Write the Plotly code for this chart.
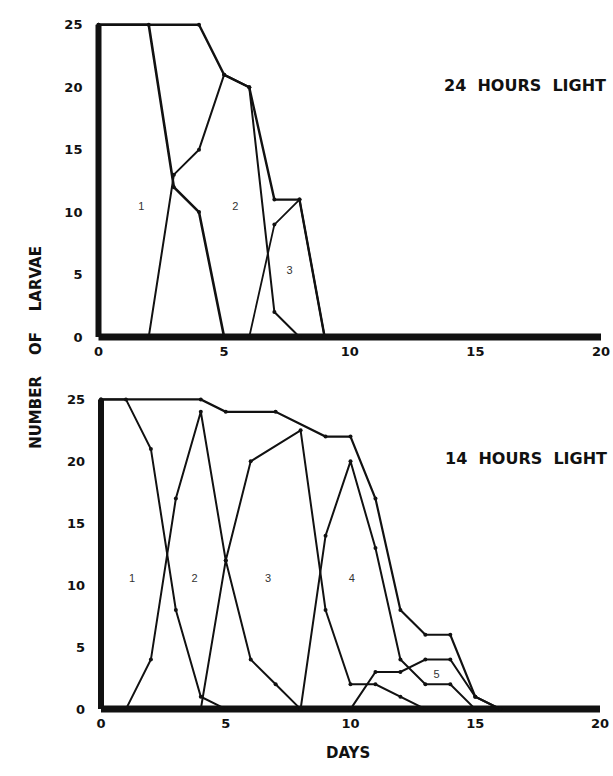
import plotly.graph_objects as go

# ---------------- data ----------------
# 24 hours light (top panel)
top_total_days = [0, 4, 5, 6, 7, 8, 9]
top_total_vals = [25, 25, 21, 20, 11, 11, 0]
top_i1_days = [0, 2, 3, 4, 5]
top_i1_vals = [25, 25, 12, 10, 0]
top_i2_days = [2, 3, 4, 5, 6, 7, 8]
top_i2_vals = [0, 13, 15, 21, 20, 2, 0]
top_i3_days = [6, 7, 8, 9]
top_i3_vals = [0, 9, 11, 0]
top_labels = ["1", "2", "3"]
top_label_x = [1.7, 5.45, 7.6]
top_label_y = [10.4, 10.4, 5.3]

# 14 hours light (bottom panel)
bot_total_days = [0, 4, 5, 7, 9, 10, 11, 12, 13, 14, 15, 16]
bot_total_vals = [25, 25, 24, 24, 22, 22, 17, 8, 6, 6, 1, 0]
bot_i1_days = [0, 1, 2, 3, 4, 5]
bot_i1_vals = [25, 25, 21, 8, 1, 0]
bot_i2_days = [1, 2, 3, 4, 5, 6, 7, 8]
bot_i2_vals = [0, 4, 17, 24, 12, 4, 2, 0]
bot_i3_days = [4, 5, 6, 8, 9, 10, 11, 12, 13]
bot_i3_vals = [0, 12, 20, 22.5, 8, 2, 2, 1, 0]
bot_i4_days = [8, 9, 10, 11, 12, 13, 14, 15]
bot_i4_vals = [0, 14, 20, 13, 4, 2, 2, 0]
bot_i5_days = [10, 11, 12, 13, 14, 15, 16]
bot_i5_vals = [0, 3, 3, 4, 4, 1, 0]
bot_labels = ["1", "2", "3", "4", "5"]
bot_label_x = [1.25, 3.75, 6.7, 10.05, 13.45]
bot_label_y = [10.5, 10.5, 10.5, 10.5, 2.7]

x_ticks = [0, 5, 10, 15, 20]
y_ticks = [0, 5, 10, 15, 20, 25]

# ---------------- layout helpers ----------------
W, H = 613, 776
XR = [-0.4, 20.4]
YR = [-0.4, 25.3]


def dom_x(p0, p1, v0=0, v1=20, r=XR):
    s = (p1 - p0) / (v1 - v0)
    return [(p0 - (v0 - r[0]) * s) / W, (p1 + (r[1] - v1) * s) / W]


def dom_y(p0, p1, v0=0, v1=25, r=YR):
    s = (p0 - p1) / (v1 - v0)
    bottom = p0 + (v0 - r[0]) * s
    top = p1 - (r[1] - v1) * s
    return [(H - bottom) / H, (H - top) / H]


fig = go.Figure()

INK = "#111111"


def add_line(xs, ys, xa, ya, width=2.2):
    fig.add_trace(go.Scatter(
        x=xs, y=ys, xaxis=xa, yaxis=ya, mode="lines+markers",
        line=dict(color=INK, width=width),
        marker=dict(color=INK, size=4),
        showlegend=False, hoverinfo="x+y",
    ))


add_line(top_total_days, top_total_vals, "x", "y", 2.4)
add_line(top_i1_days, top_i1_vals, "x", "y", 2.6)
add_line(top_i2_days, top_i2_vals, "x", "y", 2.0)
add_line(top_i3_days, top_i3_vals, "x", "y", 1.8)

add_line(bot_total_days, bot_total_vals, "x2", "y2", 2.2)
add_line(bot_i1_days, bot_i1_vals, "x2", "y2", 2.0)
add_line(bot_i2_days, bot_i2_vals, "x2", "y2", 2.0)
add_line(bot_i3_days, bot_i3_vals, "x2", "y2", 2.0)
add_line(bot_i4_days, bot_i4_vals, "x2", "y2", 2.0)
add_line(bot_i5_days, bot_i5_vals, "x2", "y2", 2.0)

# instar labels
label_font = dict(family="Liberation Sans", size=11, color="#333333")
fig.add_trace(go.Scatter(x=top_label_x, y=top_label_y, xaxis="x", yaxis="y",
                         mode="text", text=top_labels, showlegend=False,
                         textfont=label_font, hoverinfo="skip"))
fig.add_trace(go.Scatter(x=bot_label_x, y=bot_label_y, xaxis="x2", yaxis="y2",
                         mode="text", text=bot_labels, showlegend=False,
                         textfont=label_font, hoverinfo="skip"))

# thick axis lines (data coordinates)
for xr, yr in (("x", "y"), ("x2", "y2")):
    fig.add_shape(type="line", xref=xr, yref=yr, x0=0, y0=0, x1=0, y1=25,
                  line=dict(color=INK, width=6), layer="below")
    fig.add_shape(type="line", xref=xr, yref=yr, x0=0, y0=0, x1=20, y1=0,
                  line=dict(color=INK, width=7), layer="below")

tickfont = dict(family="DejaVu Sans", size=13, color=INK, weight="bold")
axis_common = dict(showgrid=False, zeroline=False, showline=False, ticks="",
                   tickfont=tickfont, fixedrange=True)

fig.update_layout(
    width=W, height=H,
    margin=dict(l=0, r=0, t=0, b=0),
    paper_bgcolor="white", plot_bgcolor="white",
    xaxis=dict(domain=dom_x(98.5, 601), range=XR, tickvals=x_ticks, anchor="y", **axis_common),
    yaxis=dict(domain=dom_y(336, 21), range=YR, tickvals=y_ticks, anchor="x",
               ticklabelstandoff=5, **axis_common),
    xaxis2=dict(domain=dom_x(101, 600), range=XR, tickvals=x_ticks, anchor="y2", **axis_common),
    yaxis2=dict(domain=dom_y(711.5, 399), range=YR, tickvals=y_ticks, anchor="x2",
                ticklabelstandoff=5, **axis_common),
)

title_font = dict(family="DejaVu Sans", size=16, color=INK, weight="bold")
NB = "\u00a0"
fig.add_annotation(xref="x", yref="y", x=16.97, y=20.1, showarrow=False,
                   text="24" + NB * 2 + "HOURS" + NB * 2 + "LIGHT", font=title_font)
fig.add_annotation(xref="x2", yref="y2", x=17.05, y=20.2, showarrow=False,
                   text="14" + NB * 2 + "HOURS" + NB * 2 + "LIGHT", font=title_font)

axis_title_font = dict(family="DejaVu Sans", size=15, color=INK, weight="bold")
fig.add_annotation(xref="paper", yref="paper", x=25 / W, y=(H - 347) / H, showarrow=False,
                   textangle=-90, text="NUMBER" + NB * 4 + "OF" + NB * 4 + "LARVAE",
                   font=axis_title_font)
fig.add_annotation(xref="paper", yref="paper", x=347.5 / W, y=(H - 767) / H, showarrow=False,
                   text="DAYS", font=axis_title_font)

fig.write_html("out.html")
